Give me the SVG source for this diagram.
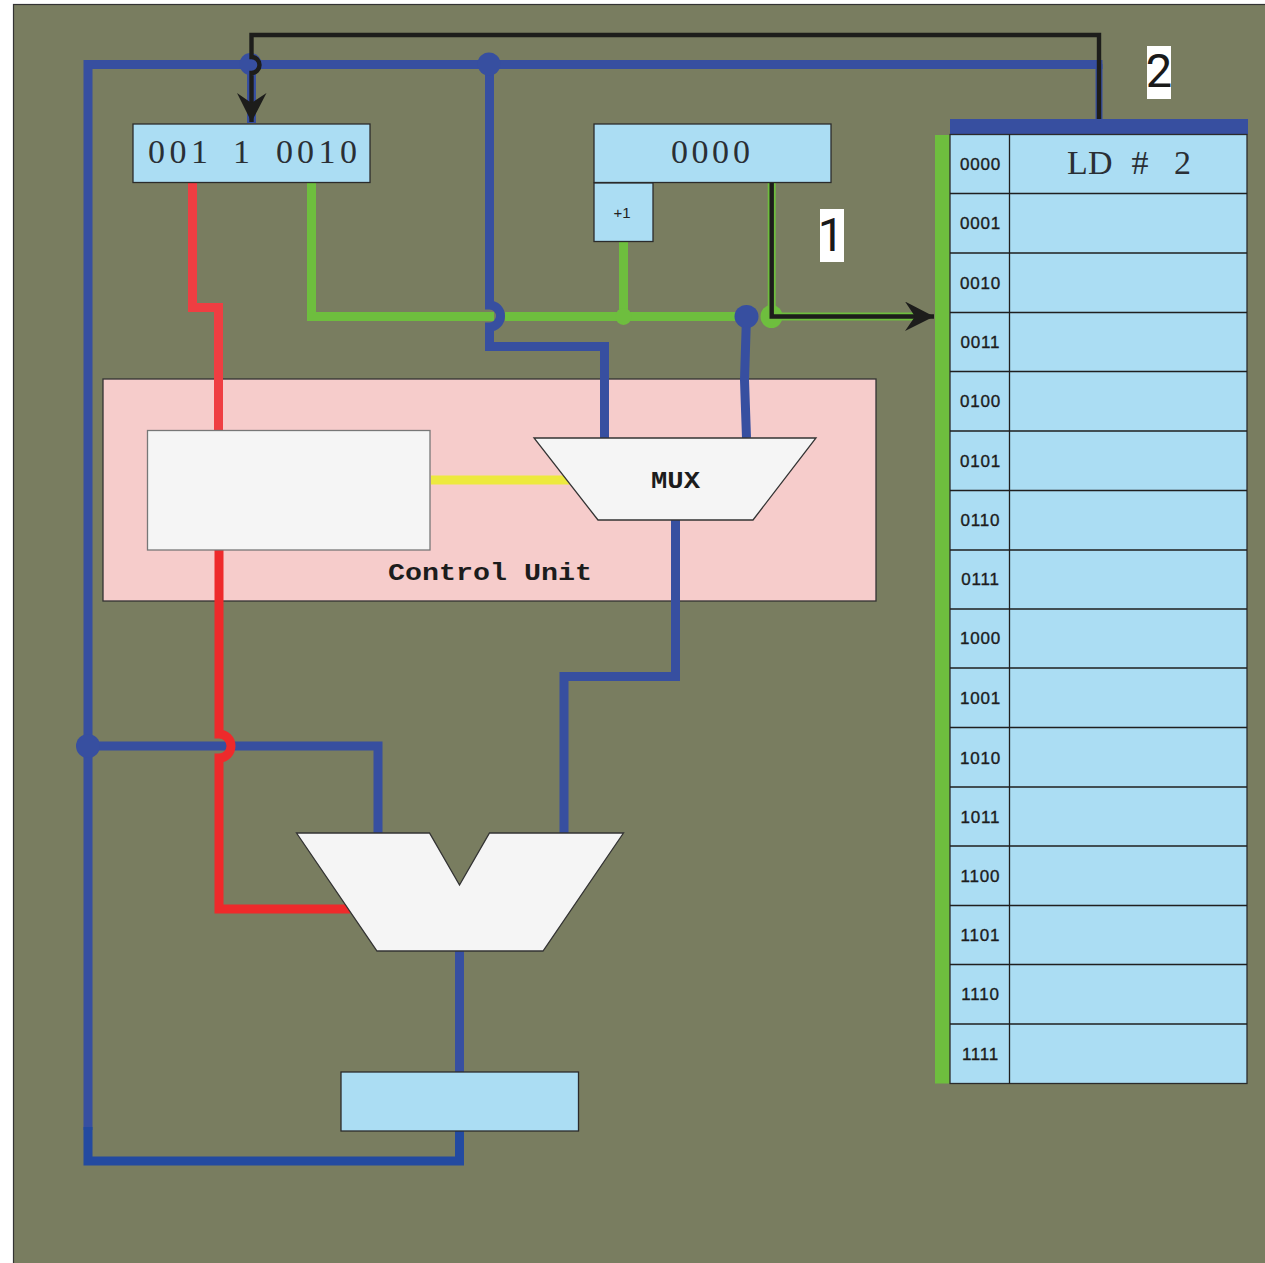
<svg xmlns="http://www.w3.org/2000/svg" width="1265" height="1263" viewBox="0 0 1265 1263">
<style>
.box{fill:#ABDDF3;stroke:#2b2b2b;stroke-width:1.3}
.wht{fill:#F5F5F5;stroke:#333;stroke-width:1.3}
.w{fill:none;stroke-linejoin:miter;stroke-linecap:butt}
.b{stroke:#374FA0;stroke-width:9}
.k{stroke:#1d1d1b;stroke-width:4.4}
.g{stroke:#6EBE3E;stroke-width:9}
.big{font-family:"Liberation Serif",serif;font-size:34px;fill:#2a2f35}
.addr{font-family:"Liberation Sans",sans-serif;font-size:17px;letter-spacing:.8px;stroke:#1c1c1c;stroke-width:.35;fill:#1c1c1c;text-anchor:middle}
.cu{font-family:"Liberation Mono",monospace;font-weight:bold;font-size:23px;fill:#1c1c1c}
.num{font-family:Roboto,sans-serif;font-size:47px;fill:#1a1a1a;text-anchor:middle}
</style>
<defs>
<marker id="ah" markerUnits="userSpaceOnUse" markerWidth="30" markerHeight="30" refX="29" refY="15" orient="auto"><path d="M0,0 L29,15 L0,29.500 L10,15 Z" fill="#1d1d1b"/></marker>
</defs>
<rect x="0" y="0" width="1265" height="1263" fill="#fff"/>
<rect x="13.500" y="4.500" width="1260" height="1265" fill="#797D60" stroke="#333" stroke-width="1.200"/>

<g id="control-unit"><rect x="103" y="379" width="773" height="222" fill="#F6CCCB" stroke="#333" stroke-width="1.300"/>
<text class="cu" x="388" y="580" textLength="204" lengthAdjust="spacingAndGlyphs">Control Unit</text></g>

<g id="connectors">
<path class="w" d="M192.500,183V307.500H218.500V431" stroke="#EF3E42" stroke-width="9"/>
<path class="w g" d="M311.500,183V316.500H494"/>
<path class="w g" d="M505,316.500H746"/>
<path class="w g" d="M623.500,242V316.500"/>
<ellipse cx="623.500" cy="316.500" rx="8" ry="8.500" fill="#6EBE3E"/>
<path class="w" d="M771.700,183V316.500H925" stroke="#6EBE3E" stroke-width="8"/>
<ellipse cx="771.500" cy="316.500" rx="11" ry="11.500" fill="#6EBE3E"/>
<path class="w" d="M431,480H570" stroke="#EDE93F" stroke-width="9"/>
<path class="w b" d="M88,1130V64.500H1102.500"/>
<path class="w b" d="M1099,64V119" style="stroke-width:7"/>
<path class="w b" d="M251.500,64V123"/>
<path class="w b" d="M489.500,64V305A11,11 0 0 1 489.500,327V346.500H604.500V438"/>
<path class="w b" d="M746.500,316L744.500,380L746.500,438"/>
<path class="w b" d="M675.500,520V676.500H564V833"/>
<path class="w b" d="M88,746H378V833"/>
<path class="w b" d="M459.500,951V1072"/>
<path class="w b" d="M88,1127V1161H459.500V1131" style="stroke:#234AA0"/>
<path class="w" d="M219,550V734A12,12 0 0 1 219,758V909H350" stroke="#EE2A2B" stroke-width="9"/>
<circle cx="250.500" cy="64" r="11" fill="#374FA0"/>
<circle cx="489" cy="64" r="11.500" fill="#374FA0"/>
<ellipse cx="746.500" cy="316.500" rx="12" ry="11.500" fill="#374FA0"/>
<ellipse cx="88" cy="746" rx="12" ry="12" fill="#374FA0"/>
<path class="w k" d="M1099,119V35H251.500V57A8,8 0 0 1 251.500,73V122" marker-end="url(#ah)"/>
<path class="w k" d="M771.700,183V316.500H934" marker-end="url(#ah)"/>
</g>

<g id="ir"><rect class="box" x="133" y="124" width="237" height="58.500"/><text class="big" x="148 169.500 191 212 233 254 276 297 318.500 340" y="163">001 1 0010</text></g>
<g id="pc"><rect class="box" x="594" y="124" width="237" height="58.500"/><text class="big" x="671 691.500 712 733" y="163">0000</text></g>
<g id="inc"><rect class="box" x="594" y="183" width="59" height="58.500"/><text x="622" y="217.500" font-family="Liberation Sans,sans-serif" font-size="15" fill="#222" text-anchor="middle">+1</text></g>
<g id="decoder"><rect class="wht" x="147.500" y="430.500" width="282.500" height="119.500" style="stroke:#777"/></g>
<g id="mux"><polygon class="wht" points="534,438 816,438 753,520 598,520"/><text class="cu" x="651" y="488" textLength="49" lengthAdjust="spacingAndGlyphs">MUX</text></g>
<g id="alu"><polygon class="wht" points="296.500,833 429.500,833 459.500,885 489.500,833 623.500,833 543,951 377,951"/></g>
<g id="accumulator"><rect class="box" x="341" y="1072" width="237.500" height="59"/></g>

<g id="memory">
<rect x="935" y="135" width="15" height="948.500" fill="#6EBE3E"/>
<rect x="950" y="119" width="298" height="15.500" fill="#374FA0"/>
<rect class="box" x="950" y="134.500" width="297" height="949"/>
<path d="M950,193.500H1247M950,253H1247M950,312.500H1247M950,371.500H1247M950,431H1247M950,490.500H1247M950,550H1247M950,609H1247M950,668H1247M950,727.500H1247M950,787H1247M950,846H1247M950,905.500H1247M950,964.500H1247M950,1024H1247M1009.500,134.500V1083.500" fill="none" stroke="#1f1f1f" stroke-width="1.300"/>
<text class="big" x="1067 1088 1110 1131.500 1153 1174" y="174">LD # 2</text>
<text class="addr" x="980.500" y="170">0000</text>
<text class="addr" x="980.500" y="229">0001</text>
<text class="addr" x="980.500" y="289">0010</text>
<text class="addr" x="980.500" y="348">0011</text>
<text class="addr" x="980.500" y="407">0100</text>
<text class="addr" x="980.500" y="467">0101</text>
<text class="addr" x="980.500" y="526">0110</text>
<text class="addr" x="980.500" y="585">0111</text>
<text class="addr" x="980.500" y="644">1000</text>
<text class="addr" x="980.500" y="704">1001</text>
<text class="addr" x="980.500" y="764">1010</text>
<text class="addr" x="980.500" y="823">1011</text>
<text class="addr" x="980.500" y="882">1100</text>
<text class="addr" x="980.500" y="941">1101</text>
<text class="addr" x="980.500" y="1000">1110</text>
<text class="addr" x="980.500" y="1060">1111</text>
</g>

<g id="label-1"><rect x="820" y="209" width="24" height="53" fill="#fff"/><text class="num" x="831" y="251">1</text></g>
<g id="label-2"><rect x="1147" y="46" width="24" height="53" fill="#fff"/><text class="num" x="1159" y="87">2</text></g>
</svg>
